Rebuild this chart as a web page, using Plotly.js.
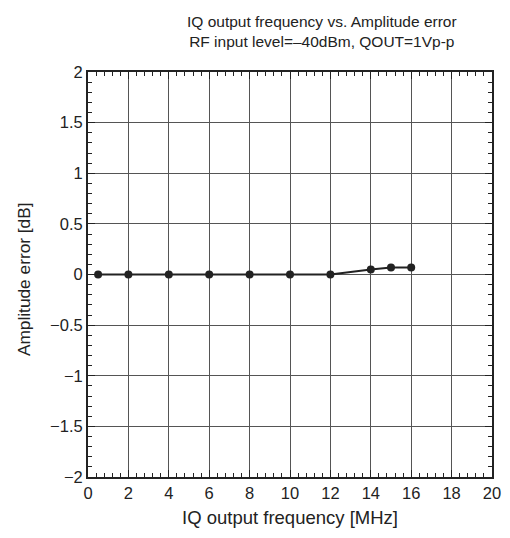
<!DOCTYPE html>
<html><head><meta charset="utf-8">
<script src="https://cdn.plot.ly/plotly-3.0.1.min.js"></script>
<style>body{margin:0;background:#fff}#c{width:510px;height:538px}</style>
</head><body><div id="c"></div>
<script>
const freqMHz = [0.5, 2, 4, 6, 8, 10, 12, 14, 15, 16];
const ampErrDb = [0, 0, 0, 0, 0, 0, 0, 0.05, 0.07, 0.07];
const titleLines = ['IQ output frequency vs. Amplitude error', 'RF input level=–40dBm, QOUT=1Vp-p'];
const xTitle = 'IQ output frequency [MHz]';
const yTitle = 'Amplitude error [dB]';

const F = 'Liberation Sans, Arial, sans-serif';
const axisCommon = {
  showline: true, linecolor: '#222', linewidth: 2, mirror: 'allticks',
  ticks: 'inside', ticklen: 7, tickcolor: '#222', tickwidth: 1,
  showgrid: true, gridcolor: '#555', gridwidth: 1,
  zeroline: false, tickfont: {family: F, size: 16.5, color: '#222'}
};
Plotly.newPlot('c', [{
  x: freqMHz, y: ampErrDb, type: 'scatter', mode: 'lines+markers',
  line: {color: '#222', width: 2}, marker: {color: '#222', size: 8}
}], {
  width: 510, height: 538,
  margin: {l: 88, r: 18, t: 72, b: 61},
  paper_bgcolor: '#fff', plot_bgcolor: '#fff',
  showlegend: false,
  font: {family: F, color: '#222'},
  title: {text: titleLines.join('<br>'), xref: 'container', x: 0.631, xanchor: 'center',
          yref: 'container', y: 0.95, yanchor: 'top',
          font: {family: F, size: 15.5, color: '#222'}},
  xaxis: Object.assign({}, axisCommon, {
    range: [0, 20], dtick: 2, tick0: 0,
    minor: {dtick: 0.4, ticks: 'inside', ticklen: 4, tickcolor: '#222', showgrid: false},
    title: {text: xTitle, font: {family: F, size: 18.5, color: '#222'}, standoff: 10}
  }),
  yaxis: Object.assign({}, axisCommon, {
    range: [-2, 2], dtick: 0.5, tick0: 0,
    minor: {dtick: 0.1, ticks: 'inside', ticklen: 4, tickcolor: '#222', showgrid: false}
  }),
  annotations: [{
    text: yTitle, textangle: -90, showarrow: false,
    xref: 'paper', yref: 'paper', x: -0.158, y: 0.489, xanchor: 'center', yanchor: 'middle',
    font: {family: F, size: 17.3, color: '#222'}
  }]
}, {displayModeBar: false});
</script></body></html>
